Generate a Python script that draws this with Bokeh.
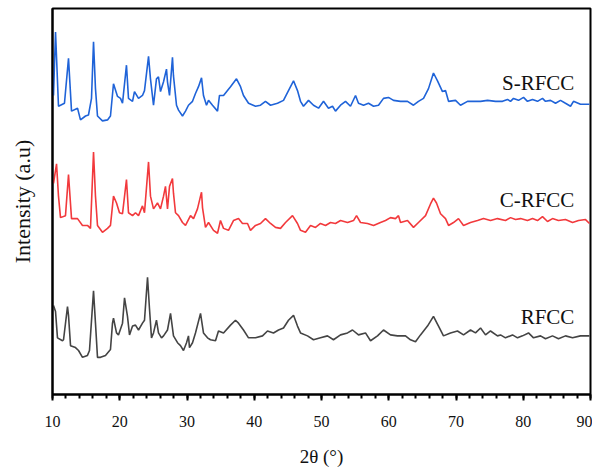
from bokeh.plotting import figure
from bokeh.models import Range1d, FixedTicker, Label
from bokeh.embed import file_html
from bokeh.resources import INLINE

# ---- data (2θ in degrees, intensity in arbitrary units, offset per pattern) ----
s_x = [10.15, 10.45, 10.89, 11.78, 12.38, 12.83, 13.72, 14.16, 14.91, 15.35, 15.80, 16.10, 16.39, 16.69,
       17.43, 18.18, 18.62, 19.07, 19.67, 20.11, 20.41, 21.00, 21.30, 21.90, 22.19, 22.79, 23.38, 23.68,
       24.28, 24.57, 25.02, 25.46, 25.76, 26.06, 26.51, 26.95, 27.10, 27.40, 27.84, 27.99, 28.44, 28.74,
       29.33, 29.78, 30.22, 30.82, 31.26, 31.71, 32.16, 32.45, 32.90, 33.20, 33.79, 34.54, 34.83, 35.43,
       36.47, 37.36, 37.96, 38.40, 39.15, 40.19, 40.93, 41.67, 42.42, 43.46, 44.35, 45.09, 45.84, 46.43,
       46.88, 47.32, 48.07, 48.81, 49.56, 50.30, 51.04, 51.64, 52.08, 52.83, 53.57, 54.31, 55.06, 55.50,
       56.25, 56.99, 57.74, 58.48, 59.22, 59.96, 60.71, 61.75, 62.79, 63.68, 64.42, 65.17, 65.91, 66.65,
       67.25, 67.99, 68.44, 68.89, 69.93, 70.67, 71.71, 72.60, 73.65, 74.69, 75.88, 76.92, 77.66, 78.11,
       78.55, 79.30, 80.04, 80.63, 81.38, 82.12, 82.86, 83.31, 84.05, 84.80, 85.54, 86.28, 87.03, 87.47,
       88.51, 89.85]
s_y = [306, 371, 295, 298, 344, 290, 293, 281, 285, 286, 303, 361, 313, 285,
       280, 281, 285, 318, 305, 303, 298, 337, 303, 300, 310, 303, 306, 311,
       346, 323, 296, 323, 325, 310, 320, 333, 320, 306, 345, 326, 296, 291,
       285, 290, 296, 300, 308, 315, 324, 306, 296, 301, 296, 290, 306, 306,
       315, 323, 315, 306, 298, 295, 296, 300, 296, 298, 301, 311, 321, 311,
       300, 295, 301, 296, 293, 300, 293, 295, 290, 296, 300, 295, 306, 298,
       296, 298, 295, 296, 303, 304, 301, 300, 300, 296, 300, 303, 313, 329,
       321, 310, 311, 300, 301, 296, 300, 300, 300, 301, 300, 300, 302, 300,
       303, 301, 304, 300, 302, 300, 303, 300, 301, 298, 301, 298, 295, 300,
       297, 297]

c_x = [10.15, 10.60, 10.89, 11.19, 11.93, 12.38, 12.83, 13.72, 14.46, 15.20, 15.65, 16.10, 16.39, 16.69,
       17.43, 18.18, 18.62, 19.07, 19.52, 19.96, 20.41, 21.00, 21.30, 21.90, 22.34, 22.79, 23.38, 23.68,
       24.28, 24.57, 25.02, 25.61, 26.06, 26.51, 26.80, 27.10, 27.40, 27.84, 27.99, 28.29, 28.74, 29.33,
       29.78, 30.52, 30.97, 31.56, 32.01, 32.16, 32.31, 32.75, 33.20, 33.94, 34.54, 34.98, 35.43, 36.17,
       36.91, 37.66, 38.25, 39.00, 39.44, 40.19, 40.93, 41.67, 42.42, 43.16, 43.90, 44.65, 45.69, 46.43,
       46.88, 47.62, 48.37, 49.11, 49.85, 50.60, 51.34, 52.08, 52.83, 53.87, 54.76, 55.21, 55.80, 56.84,
       57.74, 58.77, 59.52, 60.26, 61.00, 61.45, 61.75, 62.79, 63.68, 64.42, 65.47, 66.21, 66.65, 67.10,
       67.70, 68.44, 68.89, 69.63, 70.37, 71.12, 72.16, 73.20, 74.09, 75.13, 76.17, 77.36, 78.11, 78.85,
       79.60, 80.63, 81.38, 82.12, 82.86, 83.61, 84.35, 85.24, 86.28, 87.33, 88.22, 89.26, 89.85]
c_y = [216, 236, 203, 181, 183, 225, 180, 180, 173, 173, 170, 248, 203, 173,
       166, 170, 173, 203, 196, 186, 185, 220, 186, 183, 186, 183, 193, 186,
       238, 203, 190, 196, 190, 203, 213, 190, 213, 221, 206, 186, 183, 176,
       173, 183, 180, 190, 203, 207, 191, 171, 176, 168, 165, 178, 170, 168,
       178, 180, 175, 175, 168, 173, 175, 180, 175, 171, 170, 176, 183, 175,
       168, 166, 173, 171, 175, 173, 176, 175, 178, 176, 178, 183, 176, 175,
       173, 176, 178, 181, 180, 183, 176, 178, 171, 176, 183, 195, 201, 196,
       185, 180, 173, 176, 180, 173, 176, 178, 180, 178, 180, 178, 181, 179,
       180, 178, 180, 178, 182, 177, 180, 178, 179, 176, 178, 179, 175]

r_x = [10.15, 10.45, 10.74, 11.49, 11.64, 12.23, 12.38, 12.68, 13.42, 13.87, 14.46, 15.20, 15.50, 16.10,
       16.39, 16.69, 17.14, 17.88, 18.62, 18.92, 19.07, 19.52, 19.81, 20.41, 20.71, 21.15, 21.45, 21.90,
       22.34, 22.79, 23.38, 23.68, 24.13, 24.42, 24.72, 25.02, 25.46, 25.76, 26.21, 26.51, 27.10, 27.55,
       27.99, 28.59, 29.03, 29.48, 29.93, 30.22, 30.37, 30.82, 31.26, 32.01, 32.45, 33.05, 33.49, 34.24,
       34.68, 35.43, 36.47, 37.21, 37.66, 38.40, 39.15, 40.19, 41.23, 41.97, 42.86, 43.61, 44.35, 45.09,
       45.84, 46.43, 46.88, 47.92, 48.81, 49.85, 50.89, 51.78, 52.83, 53.87, 54.61, 55.50, 56.54, 57.29,
       58.33, 59.22, 60.26, 61.30, 62.49, 63.23, 63.98, 64.72, 65.76, 66.65, 67.40, 68.14, 69.18, 70.22,
       71.12, 72.16, 72.90, 73.65, 74.39, 75.13, 76.17, 76.62, 77.36, 78.40, 79.15, 79.89, 80.78, 81.53,
       82.57, 83.31, 84.35, 85.24, 86.28, 87.33, 88.51, 89.85]
r_y = [91, 85, 58, 55, 56, 90, 81, 50, 48, 45, 38, 40, 45, 106,
       73, 38, 38, 40, 46, 73, 78, 63, 61, 73, 99, 80, 61, 70,
       71, 66, 73, 76, 120, 88, 58, 63, 76, 63, 58, 60, 66, 83,
       60, 53, 50, 45, 53, 60, 48, 53, 63, 83, 63, 58, 56, 55,
       65, 63, 71, 76, 73, 66, 58, 58, 60, 65, 63, 66, 68, 76,
       81, 70, 63, 60, 56, 58, 60, 56, 61, 63, 66, 61, 63, 55,
       60, 66, 61, 60, 60, 56, 54, 61, 70, 80, 70, 60, 63, 65,
       61, 66, 63, 68, 61, 65, 60, 61, 58, 61, 58, 60, 63, 58,
       60, 57, 60, 57, 60, 58, 60, 60]

series_names = ["S-RFCC", "C-RFCC", "RFCC"]
series_colors = ["#1f63d8", "#f2393c", "#444444"]
label_y = [319, 199, 79]
x_ticks = [10, 20, 30, 40, 50, 60, 70, 80, 90]

FONT = "Liberation Serif"

p = figure(width=592, height=469, output_backend="svg", toolbar_location=None,
           x_range=Range1d(10, 90), y_range=Range1d(0, 395),
           min_border_left=52, min_border_right=2, min_border_top=8, min_border_bottom=66)
p.background_fill_color = "white"
p.border_fill_color = "white"
p.outline_line_color = "black"
p.outline_line_width = 2
p.xgrid.visible = False
p.ygrid.visible = False

for xs, ys, col in zip([s_x, c_x, r_x], [s_y, c_y, r_y], series_colors):
    p.line(xs, ys, line_color=col, line_width=1.6)

for name, yy in zip(series_names, label_y):
    p.add_layout(Label(x=87.6, y=yy, text=name, text_align="right", text_baseline="middle",
                       text_font=FONT, text_font_size="21px", text_color="#111111"))

xa = p.xaxis[0]
xa.ticker = FixedTicker(ticks=x_ticks, minor_ticks=list(range(10, 91, 2)))
xa.axis_line_color = "black"
xa.axis_line_width = 2
xa.major_tick_line_color = "black"
xa.major_tick_line_width = 2
xa.major_tick_in = 0
xa.major_tick_out = 6
xa.minor_tick_line_color = "black"
xa.minor_tick_line_width = 2
xa.minor_tick_in = 0
xa.minor_tick_out = 4
xa.major_label_text_font = FONT
xa.major_label_text_font_size = "16px"
xa.major_label_text_color = "#111111"
xa.major_label_standoff = 15
xa.axis_label = "2θ (°)"
xa.axis_label_text_font = FONT
xa.axis_label_text_font_size = "19px"
xa.axis_label_text_font_style = "normal"
xa.axis_label_text_color = "#111111"
xa.axis_label_standoff = 16

ya = p.yaxis[0]
ya.ticker = FixedTicker(ticks=[])
ya.axis_line_color = "black"
ya.axis_line_width = 2
ya.major_tick_line_color = None
ya.minor_tick_line_color = None
ya.axis_label = "Intensity (a.u)"
ya.axis_label_text_font = FONT
ya.axis_label_text_font_size = "22px"
ya.axis_label_text_font_style = "normal"
ya.axis_label_text_color = "#111111"
ya.axis_label_standoff = 18

open("out.html", "w").write(file_html(p, INLINE))
